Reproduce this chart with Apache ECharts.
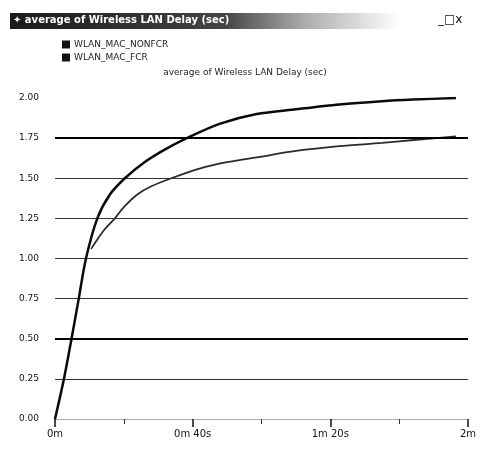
<!DOCTYPE html>
<html>
<head>
<meta charset="utf-8">
<script src="https://cdn.jsdelivr.net/npm/echarts@6/dist/echarts.min.js"></script>
<style>
  html, body { margin: 0; padding: 0; background: #fff; }
  #chart { width: 484px; height: 451px; }
</style>
</head>
<body>
<div id="chart"></div>
<script>
// 数据（秒, 延迟）
const seriesNames = ["WLAN_MAC_NONFCR", "WLAN_MAC_FCR"];
const nonfcrTime  = [0, 2.6, 4.8, 6.9, 9.0, 12.3, 16, 20.3, 26, 32, 38.3, 48, 58.6, 70, 82.6, 95, 104, 116.5];
const nonfcrDelay = [0, 0.25, 0.5, 0.75, 1.0, 1.25, 1.4, 1.5, 1.6, 1.68, 1.75, 1.84, 1.9, 1.93, 1.96, 1.98, 1.99, 2.0];
const fcrTime  = [10.5, 14, 17.4, 20, 24, 28, 33.8, 42, 50, 58.6, 70, 82.6, 95, 105, 116.5];
const fcrDelay = [1.06, 1.17, 1.25, 1.32, 1.4, 1.45, 1.5, 1.56, 1.6, 1.63, 1.67, 1.7, 1.72, 1.74, 1.76];
const thickLines = [0.5, 1.75];
const xLabels = { 0: "0m", 40: "0m 40s", 80: "1m 20s", 120: "2m" };
const chartTitle = "average of Wireless LAN Delay (sec)";

const zip = (a, b) => a.map((t, i) => [t, b[i]]);

const chart = echarts.init(document.getElementById("chart"));
chart.setOption({
    animation: false,
    backgroundColor: "#fff",
    textStyle: { fontFamily: "DejaVu Sans" },
    title: {
        text: chartTitle,
        left: 240,
        top: 63,
        textAlign: "center",
        textStyle: { fontSize: 9, fontWeight: "normal", color: "#222" }
    },
    legend: {
        orient: "vertical",
        left: 57,
        top: 35,
        itemWidth: 8,
        itemHeight: 8,
        itemGap: 4,
        icon: "rect",
        data: seriesNames,
        textStyle: { fontSize: 9, color: "#222", padding: [0, 0, 0, -1] },
        itemStyle: { color: "#111" }
    },
    graphic: [
        {
            type: "rect",
            shape: { x: 10, y: 13, width: 390, height: 16 },
            style: {
                fill: new echarts.graphic.LinearGradient(0, 0, 1, 0, [
                    { offset: 0, color: "#1a1a1a" },
                    { offset: 0.55, color: "#444" },
                    { offset: 0.75, color: "#aaa" },
                    { offset: 1, color: "#fff" }
                ])
            }
        },
        {
            type: "text", left: 13, top: 15,
            style: { text: "✦ " + chartTitle, fill: "#fff", font: "bold 10px DejaVu Sans" }
        },
        {
            type: "text", left: 438, top: 14,
            style: { text: "_□x", fill: "#111", font: "12px DejaVu Sans" }
        }
    ],
    grid: { left: 55, right: 16, top: 98, bottom: 32 },
    xAxis: {
        type: "value",
        min: 0,
        max: 120,
        interval: 40,
        axisLine: { show: true, lineStyle: { color: "#999", width: 1, type: "dotted" } },
        axisTick: { show: true, length: 8, lineStyle: { color: "#111", width: 1.5 } },
        minorTick: { show: true, splitNumber: 2, length: 5, lineStyle: { color: "#333" } },
        splitLine: { show: false },
        axisLabel: {
            formatter: v => xLabels[v] || "",
            fontSize: 10,
            color: "#111",
            margin: 10
        }
    },
    yAxis: {
        type: "value",
        min: 0,
        max: 2,
        interval: 0.25,
        axisLine: { show: false },
        axisTick: { show: false },
        axisLabel: {
            formatter: v => v.toFixed(2),
            fontSize: 9,
            color: "#111",
            margin: 16
        },
        splitLine: {
            show: true,
            lineStyle: {
                color: ["rgba(0,0,0,0)", "#333", "#333", "#333", "#333", "#333", "#333", "#333", "rgba(0,0,0,0)"],
                width: 1
            }
        }
    },
    series: [
        {
            name: seriesNames[0],
            type: "line",
            smooth: 0.3,
            showSymbol: false,
            data: zip(nonfcrTime, nonfcrDelay),
            lineStyle: { color: "#0a0a0a", width: 2.5 },
            itemStyle: { color: "#111" },
            z: 3,
            markLine: {
                silent: true,
                symbol: "none",
                label: { show: false },
                lineStyle: { color: "#000", width: 2, type: "solid" },
                data: thickLines.map(v => ({ yAxis: v }))
            }
        },
        {
            name: seriesNames[1],
            type: "line",
            smooth: 0.3,
            showSymbol: false,
            data: zip(fcrTime, fcrDelay),
            lineStyle: { color: "#2a2a2a", width: 1.8 },
            itemStyle: { color: "#111" },
            z: 2
        }
    ]
});
</script>
</body>
</html>
